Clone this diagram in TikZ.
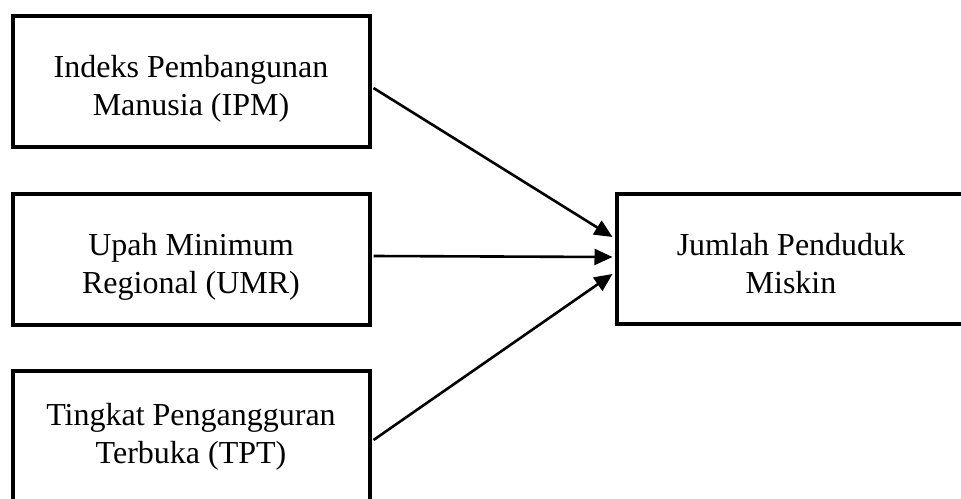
\documentclass[tikz,border=0pt]{standalone}
\usepackage{fontspec}
\setmainfont{Liberation Serif}
\usetikzlibrary{arrows.meta,calc}

\tikzset{
  varbox/.style={draw, line width=4pt, rectangle, inner sep=0pt,
    minimum width=357pt, minimum height=131pt},
  boxtext/.style={align=center, inner sep=0pt, anchor=base,
    font=\fontsize{32}{38}\selectfont},
  link/.style={line width=2.6pt, -{Triangle[length=18pt,width=16pt]}}
}

\begin{document}
\begin{tikzpicture}[x={(1pt,0)}, y={(0,-1pt)}]
  \clip (0,0) rectangle (961,498);
  \fill[white] (0,0) rectangle (961,498);

  % independent variables
  \node[varbox] (ipm) at (191,81) {};
  \node[varbox] (umr) at (191,259) {};
  \node[varbox, minimum height=133pt] (tpt) at (191,437.5) {};
  % dependent variable
  \node[varbox, minimum width=350pt, minimum height=130pt] (jpm) at (791.5,258.5) {};

  % labels (anchored on the baseline of the last line)
  \node[boxtext] (ipmtext) at (191,115) {Indeks Pembangunan\\Manusia (IPM)};
  \node[boxtext] (umrtext) at (191,293) {Upah Minimum\\Regional (UMR)};
  \node[boxtext] (tpttext) at (191,463) {Tingkat Pengangguran\\Terbuka (TPT)};
  \node[boxtext] (jpmtext) at (791,293) {Jumlah Penduduk\\Miskin};

  % influence arrows
  \draw[link] ($(ipm.east)+(2,7)$) -- ($(jpm.west)+(-2,-21.5)$);
  \draw[link] ($(umr.east)+(2,-3)$) -- ($(jpm.west)+(-2,-1.5)$);
  \draw[link] ($(tpt.east)+(2,2.5)$) -- ($(jpm.west)+(-2,15.5)$);
\end{tikzpicture}
\end{document}
